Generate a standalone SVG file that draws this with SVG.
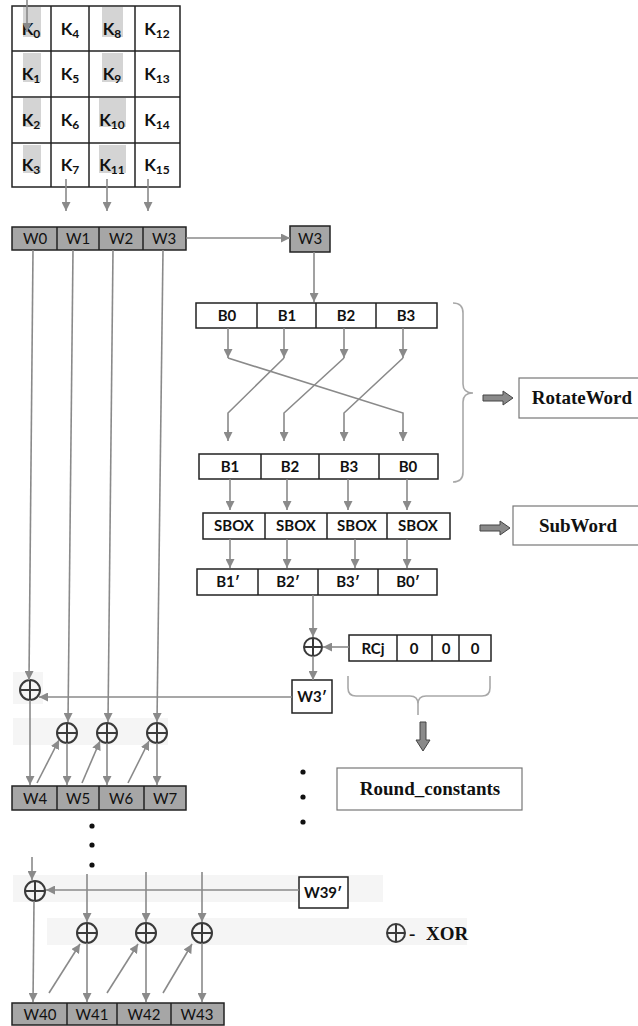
<svg xmlns="http://www.w3.org/2000/svg" width="638" height="1026" viewBox="0 0 638 1026">
<style>
.bx{fill:#fff;stroke:#222;stroke-width:1.5}
.gb{fill:#a6a6a6;stroke:#222;stroke-width:1.5}
.dv{stroke:#222;stroke-width:1.5}
.hl{fill:#d4d4d4}
.band{fill:#f5f5f5}
.c{stroke:#8a8a8a;stroke-width:1.6;fill:none}
.ca{stroke:#8a8a8a;stroke-width:1.6;fill:none;marker-end:url(#ah)}
.br{stroke:#a8a8a8;stroke-width:1.6;fill:none}
.x{fill:none;stroke:#3a3a3a;stroke-width:2}
.k{font-family:Lato,"Liberation Sans",sans-serif;font-weight:bold;font-size:17px;fill:#111;text-anchor:middle}
.ks{font-size:12px}
.w{font-family:Lato,"Liberation Sans",sans-serif;font-size:15px;fill:#111;text-anchor:middle}
.b{font-family:Lato,"Liberation Sans",sans-serif;font-weight:bold;font-size:15px;fill:#111;text-anchor:middle}
.s{font-family:"Liberation Serif",serif;font-weight:bold;font-size:19px;fill:#111;text-anchor:middle}
.sl{font-family:"Liberation Serif",serif;font-weight:bold;font-size:19px;fill:#111;text-anchor:start}
.fat{fill:#8a8a8a;stroke:#444;stroke-width:1}
.dot{fill:#111}
</style>
<defs>
<marker id="ah" viewBox="0 0 10 10" refX="10" refY="5" markerWidth="9" markerHeight="9" markerUnits="userSpaceOnUse" orient="auto">
<path d="M0,0 L10,5 L0,10 z" fill="#8a8a8a"/>
</marker>
</defs>

<g id="bands">
<rect class="band" x="13" y="672" width="30" height="32"/>
<rect class="band" x="13" y="718" width="155" height="27"/>
<rect class="band" x="13" y="875" width="370" height="27"/>
<rect class="band" x="47" y="918" width="420" height="27"/>
</g>

<g id="key-matrix">
<rect class="bx" x="12" y="6" width="168" height="181"/>
<rect class="hl" x="23" y="7" width="18" height="30"/>
<rect class="hl" x="23" y="53" width="18" height="29"/>
<rect class="hl" x="23" y="98" width="18" height="29"/>
<rect class="hl" x="23" y="145" width="18" height="28"/>
<rect class="hl" x="102" y="7" width="21" height="30"/>
<rect class="hl" x="102" y="53" width="21" height="29"/>
<rect class="hl" x="99" y="98" width="27" height="29"/>
<rect class="hl" x="99" y="145" width="27" height="28"/>
<line class="dv" x1="51" y1="6" x2="51" y2="187"/>
<line class="dv" x1="89" y1="6" x2="89" y2="187"/>
<line class="dv" x1="135" y1="6" x2="135" y2="187"/>
<line class="dv" x1="12" y1="51" x2="180" y2="51"/>
<line class="dv" x1="12" y1="97" x2="180" y2="97"/>
<line class="dv" x1="12" y1="143" x2="180" y2="143"/>
<text class="k" x="31" y="35">K<tspan class="ks" dy="3">0</tspan></text>
<text class="k" x="70" y="35">K<tspan class="ks" dy="3">4</tspan></text>
<text class="k" x="112" y="35">K<tspan class="ks" dy="3">8</tspan></text>
<text class="k" x="157" y="35">K<tspan class="ks" dy="3">12</tspan></text>
<text class="k" x="31" y="80">K<tspan class="ks" dy="3">1</tspan></text>
<text class="k" x="70" y="80">K<tspan class="ks" dy="3">5</tspan></text>
<text class="k" x="112" y="80">K<tspan class="ks" dy="3">9</tspan></text>
<text class="k" x="157" y="80">K<tspan class="ks" dy="3">13</tspan></text>
<text class="k" x="31" y="126">K<tspan class="ks" dy="3">2</tspan></text>
<text class="k" x="70" y="126">K<tspan class="ks" dy="3">6</tspan></text>
<text class="k" x="112" y="126">K<tspan class="ks" dy="3">10</tspan></text>
<text class="k" x="157" y="126">K<tspan class="ks" dy="3">14</tspan></text>
<text class="k" x="31" y="171">K<tspan class="ks" dy="3">3</tspan></text>
<text class="k" x="70" y="171">K<tspan class="ks" dy="3">7</tspan></text>
<text class="k" x="112" y="171">K<tspan class="ks" dy="3">11</tspan></text>
<text class="k" x="157" y="171">K<tspan class="ks" dy="3">15</tspan></text>
</g>

<g id="w0-w3">
<rect class="gb" x="12" y="227" width="174" height="23"/>
<line class="dv" x1="57" y1="227" x2="57" y2="250"/>
<line class="dv" x1="99" y1="227" x2="99" y2="250"/>
<line class="dv" x1="143" y1="227" x2="143" y2="250"/>
<text class="w" x="35" y="244">W0</text>
<text class="w" x="78" y="244">W1</text>
<text class="w" x="121" y="244">W2</text>
<text class="w" x="164" y="244">W3</text>
</g>

<g id="w3-copy">
<rect class="gb" x="290" y="226" width="40" height="26"/>
<text class="w" x="310" y="244">W3</text>
</g>

<g id="b-row">
<rect class="bx" x="196" y="303" width="241" height="25"/>
<line class="dv" x1="257" y1="303" x2="257" y2="328"/>
<line class="dv" x1="316" y1="303" x2="316" y2="328"/>
<line class="dv" x1="376" y1="303" x2="376" y2="328"/>
<text class="b" x="227" y="321">B0</text>
<text class="b" x="287" y="321">B1</text>
<text class="b" x="346" y="321">B2</text>
<text class="b" x="406" y="321">B3</text>
</g>

<g id="b-rotated">
<rect class="bx" x="199" y="454" width="239" height="25"/>
<line class="dv" x1="261" y1="454" x2="261" y2="479"/>
<line class="dv" x1="319" y1="454" x2="319" y2="479"/>
<line class="dv" x1="379" y1="454" x2="379" y2="479"/>
<text class="b" x="230" y="472">B1</text>
<text class="b" x="290" y="472">B2</text>
<text class="b" x="349" y="472">B3</text>
<text class="b" x="408" y="472">B0</text>
</g>

<g id="sbox-row">
<rect class="bx" x="203" y="513" width="247" height="26"/>
<line class="dv" x1="265" y1="513" x2="265" y2="539"/>
<line class="dv" x1="327" y1="513" x2="327" y2="539"/>
<line class="dv" x1="387" y1="513" x2="387" y2="539"/>
<text class="b" x="234" y="531">SBOX</text>
<text class="b" x="296" y="531">SBOX</text>
<text class="b" x="357" y="531">SBOX</text>
<text class="b" x="418" y="531">SBOX</text>
</g>

<g id="b-prime">
<rect class="bx" x="197" y="569" width="240" height="26"/>
<line class="dv" x1="258" y1="569" x2="258" y2="595"/>
<line class="dv" x1="318" y1="569" x2="318" y2="595"/>
<line class="dv" x1="378" y1="569" x2="378" y2="595"/>
<text class="b" x="228" y="587">B1′</text>
<text class="b" x="288" y="587">B2′</text>
<text class="b" x="348" y="587">B3′</text>
<text class="b" x="408" y="587">B0′</text>
</g>

<g id="rotateword">
<path class="br" d="M453,303 Q463,303 463,313 L463,384 Q463,393 473,393 Q463,393 463,402 L463,472 Q463,482 453,482"/>
<path class="fat" d="M483,395 L503,395 L503,391 L513,398 L503,405 L503,401 L483,401 Z"/>
<rect x="519" y="378" width="122" height="40" fill="#fff" stroke="#777" stroke-width="1.2"/>
<text class="s" x="582" y="404">RotateWord</text>
</g>

<g id="subword">
<path class="fat" d="M480,525 L500,525 L500,521 L510,528 L500,535 L500,531 L480,531 Z"/>
<rect x="513" y="506" width="128" height="39" fill="#fff" stroke="#777" stroke-width="1.2"/>
<text class="s" x="578" y="532">SubWord</text>
</g>

<g id="xor-rcon">
<circle class="x" cx="313" cy="647" r="9"/>
<line class="x" x1="304" y1="647" x2="322" y2="647"/>
<line class="x" x1="313" y1="638" x2="313" y2="656"/>
</g>

<g id="rcon">
<rect class="bx" x="349" y="635" width="142" height="26"/>
<line class="dv" x1="397" y1="635" x2="397" y2="661"/>
<line class="dv" x1="432" y1="635" x2="432" y2="661"/>
<line class="dv" x1="459" y1="635" x2="459" y2="661"/>
<text class="b" x="373" y="654">RCj</text>
<text class="b" x="414" y="654">0</text>
<text class="b" x="446" y="654">0</text>
<text class="b" x="475" y="654">0</text>
</g>

<g id="round-constants">
<path class="br" d="M348,676 L348,688 Q348,696 356,696 L410,696 Q418,696 418,704 L418,715 M418,704 Q418,696 426,696 L482,696 Q490,696 490,688 L490,676"/>
<path class="fat" d="M420,722 L426,722 L426,740 L430,740 L423,751 L416,740 L420,740 Z"/>
<rect x="337" y="768" width="185" height="42" fill="#fff" stroke="#777" stroke-width="1.2"/>
<text class="s" x="430" y="795">Round_constants</text>
</g>

<g id="w3-prime">
<rect class="bx" x="292" y="680" width="40" height="33"/>
<text class="b" x="312" y="702">W3′</text>
</g>

<g id="xor-row1">
<circle class="x" cx="30" cy="690" r="10"/>
<line class="x" x1="20" y1="690" x2="40" y2="690"/>
<line class="x" x1="30" y1="680" x2="30" y2="700"/>
<circle class="x" cx="67" cy="733" r="10"/>
<line class="x" x1="57" y1="733" x2="77" y2="733"/>
<line class="x" x1="67" y1="723" x2="67" y2="743"/>
<circle class="x" cx="107" cy="733" r="10"/>
<line class="x" x1="97" y1="733" x2="117" y2="733"/>
<line class="x" x1="107" y1="723" x2="107" y2="743"/>
<circle class="x" cx="157" cy="733" r="10"/>
<line class="x" x1="147" y1="733" x2="167" y2="733"/>
<line class="x" x1="157" y1="723" x2="157" y2="743"/>
</g>

<g id="w4-w7">
<rect class="gb" x="12" y="786" width="174" height="24"/>
<line class="dv" x1="57" y1="786" x2="57" y2="810"/>
<line class="dv" x1="99" y1="786" x2="99" y2="810"/>
<line class="dv" x1="144" y1="786" x2="144" y2="810"/>
<text class="w" x="35" y="804">W4</text>
<text class="w" x="78" y="804">W5</text>
<text class="w" x="121" y="804">W6</text>
<text class="w" x="165" y="804">W7</text>
</g>

<g id="ellipsis">
<circle class="dot" cx="92" cy="826" r="2.6"/>
<circle class="dot" cx="92" cy="845" r="2.6"/>
<circle class="dot" cx="92" cy="865" r="2.6"/>
<circle class="dot" cx="303" cy="772" r="2.6"/>
<circle class="dot" cx="303" cy="797" r="2.6"/>
<circle class="dot" cx="303" cy="822" r="2.6"/>
</g>

<g id="w39-prime">
<rect class="bx" x="299" y="877" width="49" height="31"/>
<text class="b" x="323" y="898">W39′</text>
</g>

<g id="xor-row10">
<circle class="x" cx="35" cy="891" r="10"/>
<line class="x" x1="25" y1="891" x2="45" y2="891"/>
<line class="x" x1="35" y1="881" x2="35" y2="901"/>
<circle class="x" cx="87" cy="933" r="10"/>
<line class="x" x1="77" y1="933" x2="97" y2="933"/>
<line class="x" x1="87" y1="923" x2="87" y2="943"/>
<circle class="x" cx="146" cy="933" r="10"/>
<line class="x" x1="136" y1="933" x2="156" y2="933"/>
<line class="x" x1="146" y1="923" x2="146" y2="943"/>
<circle class="x" cx="202" cy="933" r="10"/>
<line class="x" x1="192" y1="933" x2="212" y2="933"/>
<line class="x" x1="202" y1="923" x2="202" y2="943"/>
</g>

<g id="w40-w43">
<rect class="gb" x="12" y="1003" width="212" height="22"/>
<line class="dv" x1="67" y1="1003" x2="67" y2="1025"/>
<line class="dv" x1="117" y1="1003" x2="117" y2="1025"/>
<line class="dv" x1="171" y1="1003" x2="171" y2="1025"/>
<text class="w" x="40" y="1020">W40</text>
<text class="w" x="92" y="1020">W41</text>
<text class="w" x="144" y="1020">W42</text>
<text class="w" x="197" y="1020">W43</text>
</g>

<g id="legend">
<circle class="x" cx="396" cy="933" r="9"/>
<line class="x" x1="387" y1="933" x2="405" y2="933"/>
<line class="x" x1="396" y1="924" x2="396" y2="942"/>
<text class="sl" x="409" y="940" word-spacing="6">- XOR</text>
</g>

<g id="connectors">
<line class="ca" x1="27" y1="0" x2="27" y2="32"/>
<line class="ca" x1="66" y1="179" x2="66" y2="211"/>
<line class="ca" x1="107" y1="179" x2="107" y2="211"/>
<line class="ca" x1="148" y1="179" x2="148" y2="211"/>
<line class="ca" x1="186" y1="238" x2="290" y2="238"/>
<line class="ca" x1="314" y1="252" x2="314" y2="302"/>
<line class="ca" x1="228" y1="328" x2="228" y2="358"/>
<line class="ca" x1="284" y1="328" x2="284" y2="358"/>
<line class="ca" x1="344" y1="328" x2="344" y2="358"/>
<line class="ca" x1="403" y1="328" x2="403" y2="358"/>
<polyline class="c" points="228,358 403,413 403,432"/>
<polyline class="c" points="284,358 228,413 228,432"/>
<polyline class="c" points="344,358 284,413 284,432"/>
<polyline class="c" points="403,358 344,413 344,432"/>
<line class="ca" x1="228" y1="430" x2="228" y2="441"/>
<line class="ca" x1="284" y1="430" x2="284" y2="441"/>
<line class="ca" x1="344" y1="430" x2="344" y2="441"/>
<line class="ca" x1="403" y1="430" x2="403" y2="441"/>
<line class="ca" x1="230" y1="479" x2="230" y2="510"/>
<line class="ca" x1="287" y1="479" x2="287" y2="510"/>
<line class="ca" x1="348" y1="479" x2="348" y2="510"/>
<line class="ca" x1="407" y1="479" x2="407" y2="510"/>
<line class="ca" x1="230" y1="539" x2="230" y2="568"/>
<line class="ca" x1="287" y1="539" x2="287" y2="568"/>
<line class="ca" x1="355" y1="539" x2="355" y2="568"/>
<line class="ca" x1="407" y1="539" x2="407" y2="568"/>
<line class="ca" x1="313" y1="595" x2="313" y2="637"/>
<line class="ca" x1="349" y1="647" x2="323" y2="647"/>
<line class="ca" x1="313" y1="656" x2="313" y2="680"/>
<line class="ca" x1="292" y1="697" x2="39" y2="697"/>
<line class="ca" x1="33" y1="250" x2="29" y2="680"/>
<line class="ca" x1="73" y1="250" x2="68" y2="722"/>
<line class="ca" x1="113" y1="250" x2="108" y2="722"/>
<line class="ca" x1="163" y1="250" x2="157" y2="722"/>
<line class="ca" x1="30" y1="700" x2="30" y2="785"/>
<line class="ca" x1="67" y1="743" x2="67" y2="785"/>
<line class="ca" x1="107" y1="743" x2="107" y2="785"/>
<line class="ca" x1="157" y1="743" x2="157" y2="785"/>
<line class="ca" x1="37" y1="783" x2="59" y2="740"/>
<line class="ca" x1="82" y1="783" x2="100" y2="741"/>
<line class="ca" x1="128" y1="783" x2="149" y2="741"/>
<line class="ca" x1="32" y1="857" x2="32" y2="880"/>
<line class="ca" x1="299" y1="890" x2="46" y2="890"/>
<line class="ca" x1="87" y1="874" x2="87" y2="922"/>
<line class="ca" x1="146" y1="872" x2="146" y2="922"/>
<line class="ca" x1="202" y1="872" x2="202" y2="922"/>
<line class="ca" x1="34" y1="901" x2="33" y2="1002"/>
<line class="ca" x1="87" y1="943" x2="87" y2="1002"/>
<line class="ca" x1="146" y1="943" x2="146" y2="1002"/>
<line class="ca" x1="202" y1="943" x2="202" y2="1002"/>
<line class="ca" x1="49" y1="993" x2="80" y2="944"/>
<line class="ca" x1="107" y1="993" x2="138" y2="944"/>
<line class="ca" x1="163" y1="993" x2="192" y2="944"/>
</g>
</svg>
